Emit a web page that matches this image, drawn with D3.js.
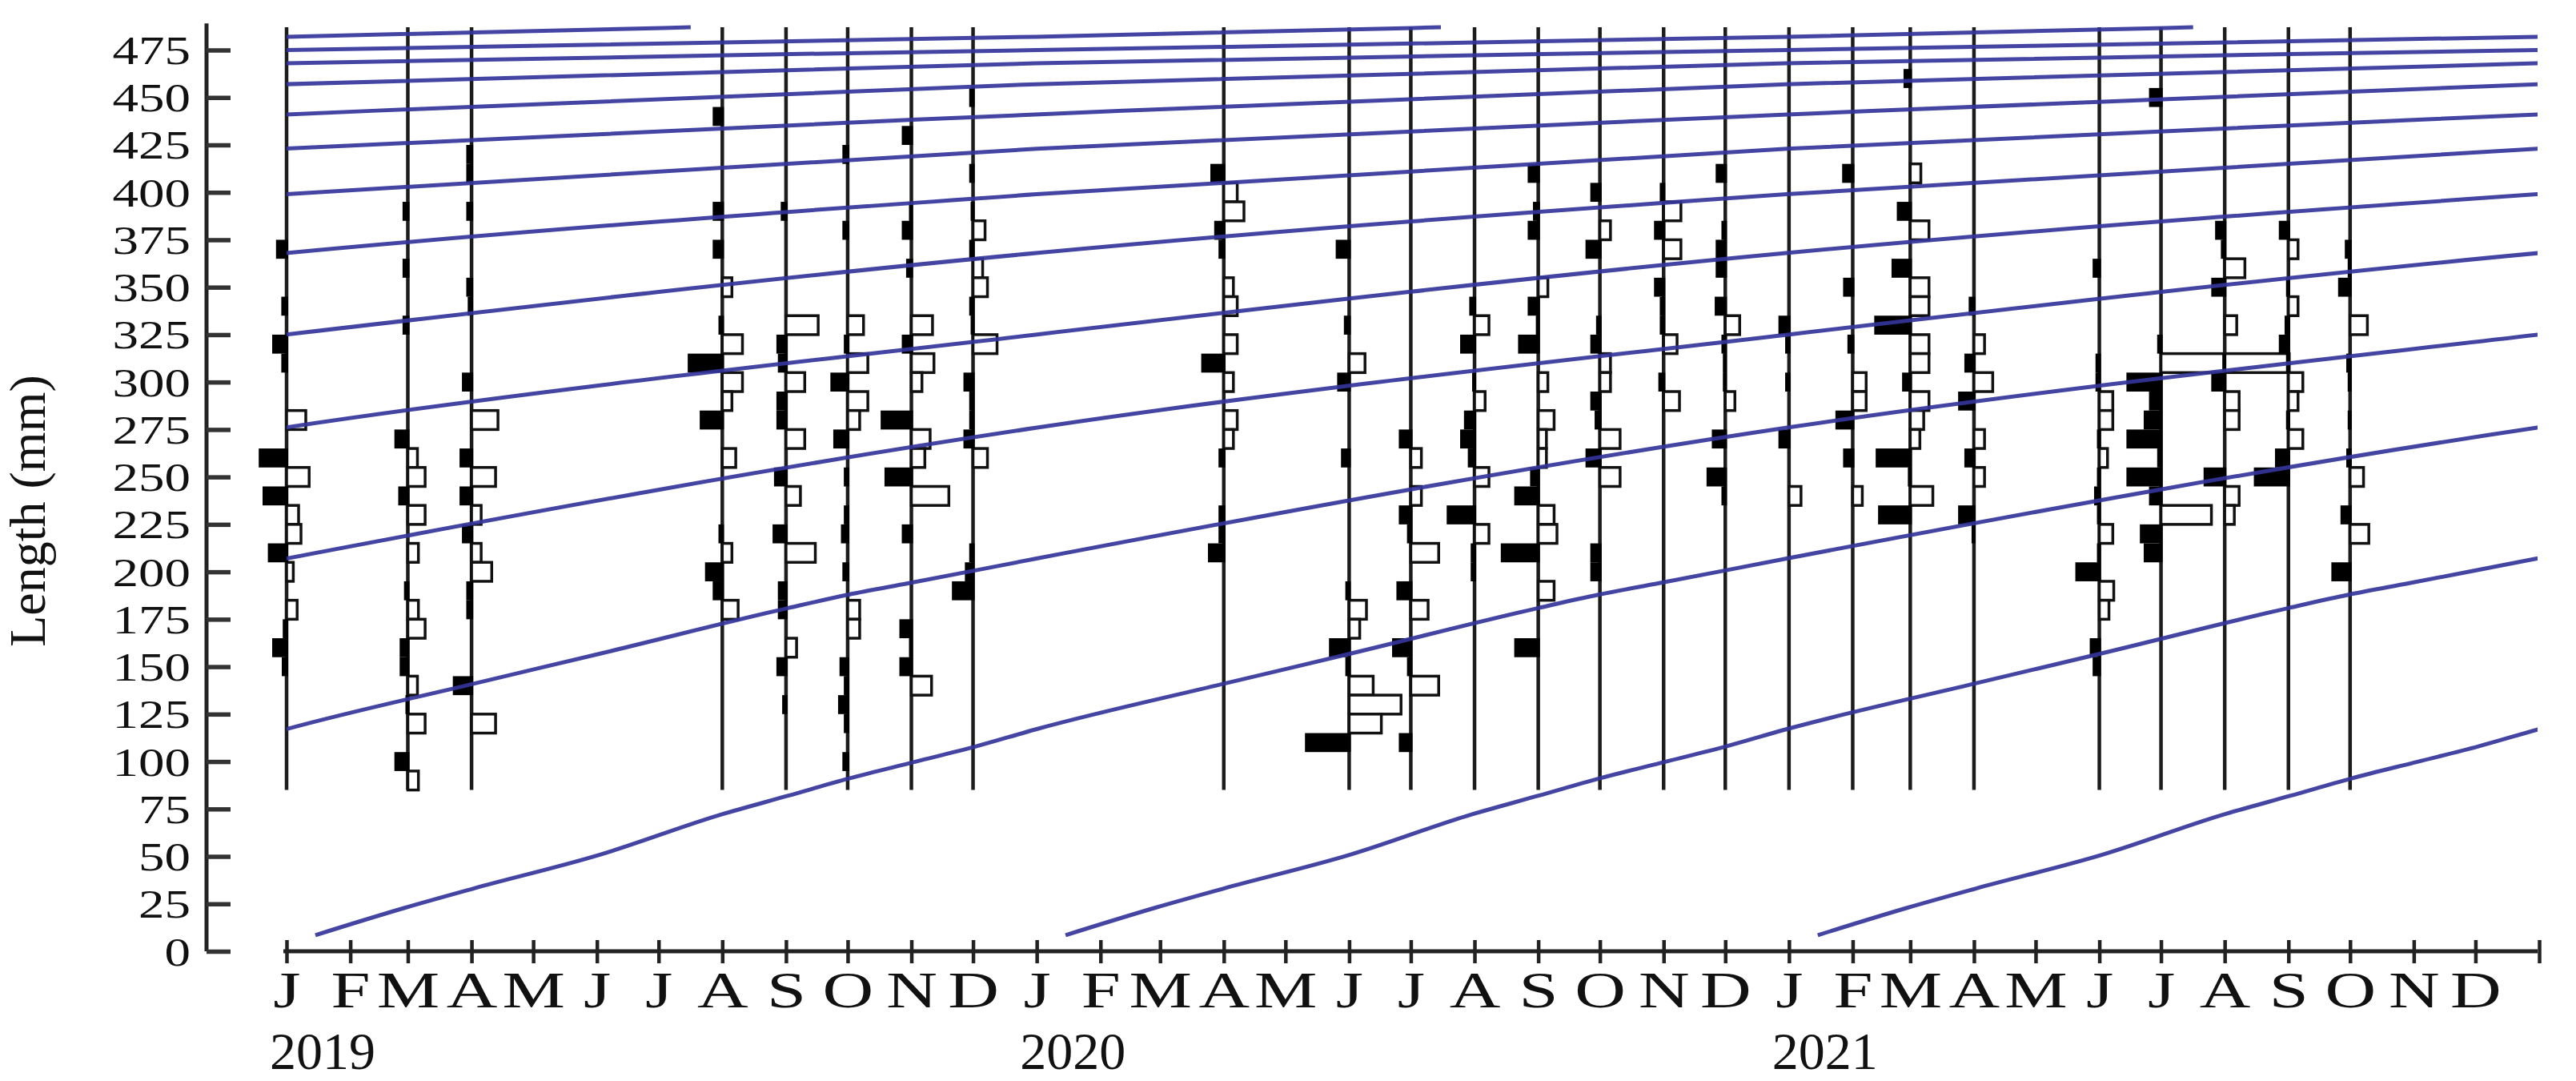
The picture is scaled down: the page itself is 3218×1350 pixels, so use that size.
<!DOCTYPE html>
<html>
<head>
<meta charset="utf-8">
<script src="https://cdn.jsdelivr.net/npm/d3@7"></script>
<style>
  body { margin: 0; background: #fff; }
  text { font-family: "Liberation Serif", "Times New Roman", serif; fill: #111; }
</style>
</head>
<body>
<svg id="chart" width="3218" height="1350"></svg>
<script>
// ---- axis labels ----
const yTicks = [0, 25, 50, 75, 100, 125, 150, 175, 200, 225, 250, 275, 300, 325, 350, 375, 400, 425, 450, 475];
const monthLetters = ["J", "F", "M", "A", "M", "J", "J", "A", "S", "O", "N", "D"];
const yearLabels = [2019, 2020, 2021];

// ---- sampling months ----
const sampleMonths = ["2019-01", "2019-03", "2019-04", "2019-08", "2019-09", "2019-10", "2019-11", "2019-12",
  "2020-04", "2020-06", "2020-07", "2020-08", "2020-09", "2020-10", "2020-11", "2020-12",
  "2021-01", "2021-02", "2021-03", "2021-04", "2021-06", "2021-07", "2021-08", "2021-09", "2021-10"];

// restructured frequencies per 10 mm class: [class mid-length, value]
// negative = black bar (left), positive = open bar (right)
const s2019_01 = [[370,-0.22],[340,-0.11],[320,-0.3],[310,-0.11],[280,0.4],[260,-0.58],[250,0.47],[240,-0.5],[230,0.25],[220,0.3],[210,-0.39],[200,0.14],[180,0.22],[170,-0.08],[160,-0.3],[150,-0.1]];
const s2019_03 = [[390,-0.11],[360,-0.11],[330,-0.11],[270,-0.28],[260,0.2],[250,0.36],[240,-0.2],[230,0.36],[210,0.22],[190,-0.08],[180,0.22],[170,0.36],[160,-0.17],[150,-0.17],[140,0.2],[130,-0.05],[120,0.36],[100,-0.28],[90,0.22]];
const s2019_04 = [[420,-0.11],[410,-0.11],[390,-0.11],[350,-0.11],[340,-0.08],[300,-0.2],[280,0.55],[260,-0.25],[250,0.5],[240,-0.25],[230,0.2],[220,-0.2],[210,0.2],[200,0.42],[190,-0.11],[180,-0.11],[140,-0.39],[120,0.5]];
const s2019_08 = [[440,-0.2],[390,-0.2],[370,-0.2],[350,0.2],[330,-0.08],[320,0.42],[310,-0.72],[300,0.42],[290,0.2],[280,-0.47],[260,0.28],[220,-0.08],[210,0.2],[200,-0.36],[190,-0.2],[180,0.33]];
const s2019_09 = [[390,-0.11],[330,0.67],[320,-0.2],[310,-0.17],[300,0.39],[290,-0.2],[280,-0.2],[270,0.39],[250,-0.25],[240,0.3],[220,-0.28],[210,0.61],[190,-0.17],[180,-0.17],[160,0.22],[150,-0.2],[130,-0.08]];
const s2019_10 = [[420,-0.11],[380,-0.11],[330,0.33],[320,-0.08],[310,0.42],[300,-0.36],[290,0.42],[280,0.25],[270,-0.3],[250,-0.08],[230,-0.08],[220,-0.14],[200,-0.11],[180,0.25],[170,0.25],[150,-0.17],[140,-0.08],[130,-0.2],[120,-0.08],[100,-0.11]];
const s2019_11 = [[430,-0.2],[390,-0.05],[380,-0.2],[360,-0.11],[330,0.44],[320,-0.2],[310,0.47],[300,0.22],[280,-0.64],[270,0.39],[260,0.28],[250,-0.56],[240,0.78],[220,-0.2],[170,-0.25],[160,-0.05],[150,-0.25],[140,0.42]];
const s2019_12 = [[450,-0.08],[410,-0.08],[390,-0.05],[380,0.25],[370,-0.08],[360,0.2],[350,0.3],[340,-0.08],[330,-0.05],[320,0.5],[300,-0.2],[290,-0.08],[280,-0.08],[270,-0.2],[260,0.3],[210,-0.08],[200,-0.17],[190,-0.44]];
const s2020_04 = [[410,-0.28],[400,0.28],[390,0.42],[380,-0.2],[370,-0.11],[350,0.2],[340,0.28],[320,0.28],[310,-0.47],[300,0.2],[280,0.28],[270,0.2],[260,-0.11],[230,-0.11],[220,-0.11],[210,-0.33]];
const s2020_06 = [[370,-0.28],[330,-0.11],[310,0.33],[300,-0.25],[260,-0.17],[190,-0.08],[180,0.36],[170,0.22],[160,-0.42],[150,-0.08],[140,0.5],[130,1.08],[120,0.67],[110,-0.92]];
const s2020_07 = [[270,-0.25],[260,0.22],[240,0.22],[230,-0.25],[220,-0.08],[210,0.58],[190,-0.3],[180,0.36],[160,-0.39],[150,-0.08],[140,0.58],[110,-0.25]];
const s2020_08 = [[340,-0.11],[330,0.3],[320,-0.3],[300,-0.05],[290,0.22],[280,-0.22],[270,-0.3],[260,-0.14],[250,0.3],[230,-0.58],[220,0.3],[210,-0.08],[200,-0.08]];
const s2020_09 = [[410,-0.22],[390,-0.11],[380,-0.22],[350,0.2],[340,-0.22],[330,-0.05],[320,-0.42],[300,0.2],[280,0.33],[270,0.17],[260,0.17],[250,-0.17],[240,-0.5],[230,0.33],[220,0.39],[210,-0.78],[190,0.33],[160,-0.5]];
const s2020_10 = [[400,-0.2],[380,0.22],[370,-0.3],[330,-0.08],[320,-0.2],[310,0.22],[300,0.22],[290,-0.2],[280,-0.11],[270,0.42],[260,-0.3],[250,0.42],[210,-0.2],[200,-0.2]];
const s2020_11 = [[400,-0.08],[390,0.36],[380,-0.2],[370,0.36],[350,-0.2],[340,-0.08],[330,-0.08],[320,0.28],[300,-0.11],[290,0.33]];
const s2020_12 = [[410,-0.2],[380,-0.08],[370,-0.2],[360,-0.2],[340,-0.22],[330,0.3],[320,-0.08],[310,-0.05],[300,-0.05],[290,0.2],[270,-0.28],[250,-0.39],[240,-0.08]];
const s2021_01 = [[330,-0.22],[320,-0.08],[300,-0.08],[270,-0.22],[240,0.25]];
const s2021_02 = [[410,-0.22],[350,-0.2],[320,-0.11],[300,0.28],[290,0.28],[280,-0.36],[260,-0.2],[240,0.2]];
const s2021_03 = [[460,-0.14],[410,0.22],[390,-0.28],[380,0.39],[360,-0.39],[350,0.39],[340,0.39],[330,-0.75],[320,0.39],[310,0.39],[300,-0.17],[290,0.39],[280,0.28],[270,0.2],[260,-0.72],[250,-0.05],[240,0.47],[230,-0.67]];
const s2021_04 = [[340,-0.11],[320,0.22],[310,-0.2],[300,0.39],[290,-0.33],[270,0.22],[260,-0.2],[250,0.22],[230,-0.33],[220,-0.05]];
const s2021_06 = [[360,-0.14],[310,-0.08],[300,-0.08],[290,0.28],[280,0.28],[270,-0.05],[260,0.17],[250,-0.05],[240,-0.11],[230,-0.05],[220,0.28],[210,-0.05],[200,-0.5],[190,0.3],[180,0.2],[160,-0.2],[150,-0.14]];
const s2021_07 = [[450,-0.25],[320,-0.08],[310,2.67],[300,-0.72],[290,-0.25],[280,-0.36],[270,-0.72],[260,-0.08],[250,-0.72],[240,-0.25],[230,1.05],[220,-0.44],[210,-0.36]];
const s2021_08 = [[380,-0.2],[370,-0.08],[360,0.42],[350,-0.28],[330,0.25],[310,-0.05],[300,-0.28],[290,0.3],[280,0.3],[250,-0.44],[240,0.3],[230,0.2]];
const s2021_09 = [[380,-0.2],[370,0.2],[350,-0.05],[340,0.2],[330,-0.08],[320,-0.2],[310,-0.05],[300,0.3],[290,0.2],[280,-0.05],[270,0.3],[260,-0.28],[250,-0.72]];
const s2021_10 = [[370,-0.11],[360,-0.05],[350,-0.25],[330,0.36],[310,-0.08],[300,-0.05],[280,-0.05],[260,-0.08],[250,0.28],[230,-0.2],[220,0.39],[200,-0.39]];

const sampleBars = [s2019_01, s2019_03, s2019_04, s2019_08, s2019_09, s2019_10, s2019_11, s2019_12,
  s2020_04, s2020_06, s2020_07, s2020_08, s2020_09, s2020_10, s2020_11, s2020_12,
  s2021_01, s2021_02, s2021_03, s2021_04, s2021_06, s2021_07, s2021_08, s2021_09, s2021_10];

// ---- growth curve: age (years) vs length (mm) ----
const growthAge = [0, 0.12, 0.21, 0.38, 0.54, 0.63, 0.71, 0.80, 0.88, 0.96, 1.21, 1.38, 1.63, 1.71, 1.79, 1.96,
  2.96, 3.96, 4.96, 5.96, 6.96, 7.96, 8.96, 9.96, 10.96, 11.96, 12.5];
const growthLength = [8.5, 23, 33, 51, 72, 82, 91, 100, 108, 117, 141, 157, 181, 188, 194, 207,
  276, 325, 368, 399, 423, 441, 457, 468, 475, 482, 487];
// cohorts recruited mid-January of each year
const cohortYears = [2007, 2008, 2009, 2010, 2011, 2012, 2013, 2014, 2015, 2016, 2017, 2018, 2019, 2020, 2021];

const W = 3218, H = 1350;
const svg = d3.select("#chart");
svg.append("rect").attr("width", W).attr("height", H).attr("fill", "#fff");

const start = new Date(Date.UTC(2019, 0, 1));
const end = new Date(Date.UTC(2022, 0, 1));
const x = d3.scaleUtc().domain([start, end]).range([358, 3172]);
const y = d3.scaleLinear().domain([0, 475]).range([1188, 62.5]);
const barLen = d3.scaleLinear().domain([0, 1]).range([0, 60]);
const parseMonth = d3.utcParse("%Y-%m");

// ---- y axis ----
svg.append("line")
  .attr("x1", 258).attr("x2", 258)
  .attr("y1", y(489)).attr("y2", y(0))
  .attr("stroke", "#222").attr("stroke-width", 5);

const gy = svg.append("g")
  .attr("transform", "translate(258,0)")
  .call(d3.axisLeft(y).tickValues(yTicks).tickSizeInner(-30).tickSizeOuter(0).tickPadding(20));
gy.select(".domain").remove();
gy.selectAll(".tick line").attr("stroke", "#333").attr("stroke-width", 5.5);
gy.selectAll(".tick text")
  .attr("x", -20 / 1.3)
  .attr("dy", "0.34em")
  .attr("transform", "scale(1.3,1)")
  .style("font-size", "50px");

svg.append("text")
  .attr("transform", "translate(56,638) rotate(-90)")
  .attr("text-anchor", "middle")
  .style("font-size", "64px")
  .text("Length (mm)");

// ---- x axis ----
const months = d3.utcMonth.range(start, new Date(Date.UTC(2022, 0, 2)));
svg.append("line")
  .attr("x1", x(start) - 4).attr("x2", x(end) - 2)
  .attr("y1", y(0)).attr("y2", y(0))
  .attr("stroke", "#222").attr("stroke-width", 5);

const gx = svg.append("g")
  .attr("transform", `translate(0,${y(0)})`)
  .call(d3.axisBottom(x).tickValues(months).tickSizeInner(15).tickSizeOuter(0)
    .tickFormat(d => d.getUTCFullYear() > 2021 ? "" : monthLetters[d.getUTCMonth()]));
gx.select(".domain").remove();
gx.selectAll(".tick line").attr("y1", -14).attr("y2", 15).attr("stroke", "#222").attr("stroke-width", 4.5);
gx.selectAll(".tick text")
  .attr("y", 70).attr("dy", 0)
  .attr("transform", "scale(1.4,1)")
  .style("font-size", "63px");

svg.selectAll(".year")
  .data(yearLabels)
  .enter().append("text")
    .attr("class", "year")
    .attr("x", d => x(new Date(Date.UTC(d, 0, 1))) + 45)
    .attr("y", 1335)
    .attr("text-anchor", "middle")
    .style("font-size", "66px")
    .text(d => d);

// ---- sample histograms ----
const samples = sampleMonths.map((m, i) => ({ date: parseMonth(m), bars: sampleBars[i] }));

const gs = svg.append("g").attr("class", "samples");
gs.selectAll("line")
  .data(samples)
  .enter().append("line")
    .attr("x1", d => x(d.date)).attr("x2", d => x(d.date))
    .attr("y1", y(487)).attr("y2", y(85))
    .attr("stroke", "#1c1c1c").attr("stroke-width", 4.5);

samples.forEach(s => {
  const x0 = x(s.date);
  const g = gs.append("g");
  g.selectAll("rect.open")
    .data(s.bars.filter(b => b[1] > 0))
    .enter().append("rect")
      .attr("class", "open")
      .attr("x", x0)
      .attr("y", b => y(b[0] + 5))
      .attr("width", b => barLen(b[1]))
      .attr("height", b => y(b[0] - 5) - y(b[0] + 5))
      .attr("fill", "#fff")
      .attr("stroke", "#111")
      .attr("stroke-width", 3.5);
  g.selectAll("rect.filled")
    .data(s.bars.filter(b => b[1] < 0))
    .enter().append("rect")
      .attr("class", "filled")
      .attr("x", b => x0 - barLen(-b[1]))
      .attr("y", b => y(b[0] + 5))
      .attr("width", b => barLen(-b[1]) + 2)
      .attr("height", b => y(b[0] - 5) - y(b[0] + 5))
      .attr("fill", "#000");
});

// ---- growth curves ----
svg.append("clipPath").attr("id", "plotclip")
  .append("rect")
    .attr("x", x(start)).attr("y", 0)
    .attr("width", x(end) - 2 - x(start)).attr("height", H);

const dayMs = 864e5;
const cohorts = cohortYears.map(yr => {
  const birth = Date.UTC(yr, 0, 15);
  return growthAge.map((a, i) => ({ t: new Date(birth + a * 365.25 * dayMs), len: growthLength[i] }));
});

const line = d3.line()
  .x(d => x(d.t))
  .y(d => y(d.len))
  .curve(d3.curveMonotoneX);

svg.append("g")
  .attr("clip-path", "url(#plotclip)")
  .selectAll("path")
  .data(cohorts)
  .enter().append("path")
    .attr("d", line)
    .attr("fill", "none")
    .attr("stroke", "#34349a")
    .attr("stroke-width", 5)
    .attr("stroke-opacity", 0.92);
</script>
</body>
</html>
